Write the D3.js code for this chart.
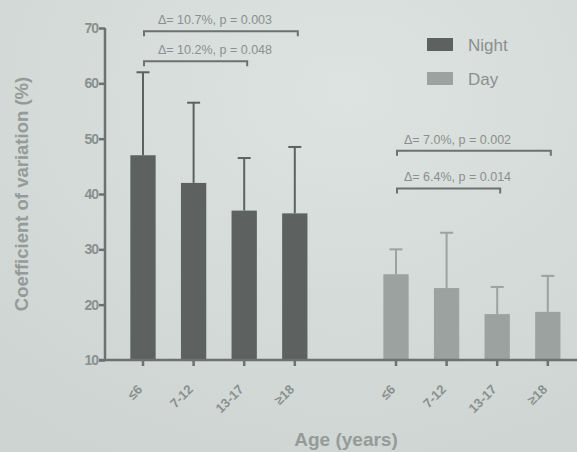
<!DOCTYPE html>
<html>
<head>
<meta charset="utf-8">
<script src="https://cdn.jsdelivr.net/npm/d3@7"></script>
<style>
  html, body { margin: 0; padding: 0; background: #d6dcd9; }
  svg { display: block; }
</style>
</head>
<body>
<svg id="chart" width="577" height="452"></svg>
<script>
// ---- data ----
const ageGroups = ["≤6", "7-12", "13-17", "≥18"];
const seriesNames = ["Night", "Day"];
const nightMeans = [47, 42, 37, 36.5];
const nightUpper = [62, 56.5, 46.5, 48.5];
const dayMeans = [25.5, 23, 18.3, 18.7];
const dayUpper = [30, 33, 23.2, 25.2];
const yTicks = [10, 20, 30, 40, 50, 60, 70];
const annotations = [
  { series: "Night", from: 0, to: 3, level: 69.4, text: "Δ= 10.7%, p = 0.003" },
  { series: "Night", from: 0, to: 2, level: 64,   text: "Δ= 10.2%, p = 0.048" },
  { series: "Day",   from: 0, to: 3, level: 47.8, text: "Δ= 7.0%, p = 0.002" },
  { series: "Day",   from: 0, to: 2, level: 41,   text: "Δ= 6.4%, p = 0.014" }
];

// ---- build ----
const svg = d3.select("#chart");
const W = 577, H = 452;
const colors = { Night: "#5d6261", Day: "#9ca2a0" };
const axisColor = "#6c7270";
const textColor = "#8a908e";
const titleColor = "#959b99";
const font = "'Liberation Sans', Arial, sans-serif";

// background with slight photographic gradient
const defs = svg.append("defs");
const grad = defs.append("radialGradient").attr("id", "bg")
  .attr("cx", "0.6").attr("cy", "0.2").attr("r", "0.9");
grad.append("stop").attr("offset", "0").attr("stop-color", "#dde3e0");
grad.append("stop").attr("offset", "1").attr("stop-color", "#cdd4d1");
svg.append("rect").attr("width", W).attr("height", H).attr("fill", "url(#bg)");

const rows = [];
const slots = [];
seriesNames.forEach((s, si) => {
  if (si > 0) slots.push("gap");
  ageGroups.forEach((a, i) => {
    const key = s + "|" + a;
    slots.push(key);
    rows.push({
      key, series: s, age: a, idx: i,
      mean: s === "Night" ? nightMeans[i] : dayMeans[i],
      upper: s === "Night" ? nightUpper[i] : dayUpper[i]
    });
  });
});

const x = d3.scaleBand().domain(slots).range([117.7, 573.1])
  .paddingInner(0.5).paddingOuter(0.25);
const y = d3.scaleLinear().domain([10, 70]).range([360, 28]);
const axisLeftX = 105;

// bars
svg.append("g").selectAll("rect").data(rows).join("rect")
  .attr("x", d => x(d.key))
  .attr("width", x.bandwidth())
  .attr("y", d => y(d.mean))
  .attr("height", d => y(10) - y(d.mean))
  .attr("fill", d => colors[d.series]);

// error bars
const eg = svg.append("g").attr("stroke-width", 2);
rows.forEach(d => {
  const cx = x(d.key) + x.bandwidth() / 2;
  eg.append("line").attr("x1", cx).attr("x2", cx)
    .attr("y1", y(d.mean)).attr("y2", y(d.upper))
    .attr("stroke", colors[d.series]);
  eg.append("line").attr("x1", cx - 6.5).attr("x2", cx + 6.5)
    .attr("y1", y(d.upper)).attr("y2", y(d.upper))
    .attr("stroke", colors[d.series]);
});

// y axis
const yAxis = d3.axisLeft(y).tickValues(yTicks).tickSize(6).tickPadding(1);
const gy = svg.append("g").attr("transform", `translate(${axisLeftX},0)`).call(yAxis);
gy.select(".domain").attr("stroke", axisColor).attr("stroke-width", 2.5)
  .attr("d", `M0,${y(70)}V${y(10)}`);
gy.selectAll(".tick line").attr("stroke", axisColor).attr("stroke-width", 2.5);
gy.selectAll(".tick text").attr("fill", textColor)
  .style("font-family", font).style("font-size", "14px").style("font-weight", "bold")
  .style("letter-spacing", "-1px");

// x axis
const xAxis = d3.axisBottom(x).tickValues(slots.filter(s => s !== "gap"))
  .tickFormat(k => k.split("|")[1]).tickSize(6).tickSizeOuter(0);
const gx = svg.append("g").attr("transform", `translate(0,${y(10)})`).call(xAxis);
gx.select(".domain").attr("stroke", axisColor).attr("stroke-width", 2.5)
  .attr("d", `M${axisLeftX - 6},0H${W}`);
gx.selectAll(".tick line").attr("stroke", axisColor).attr("stroke-width", 2.5);
gx.selectAll(".tick text")
  .attr("fill", textColor)
  .style("font-family", font).style("font-size", "13px").style("font-weight", "bold")
  .attr("text-anchor", "end")
  .attr("dy", "0.35em")
  .attr("transform", "translate(-3,27) rotate(-45)")
  .attr("x", 0).attr("y", 0);

// significance brackets
const ag = svg.append("g");
annotations.forEach(a => {
  const k1 = a.series + "|" + ageGroups[a.from];
  const k2 = a.series + "|" + ageGroups[a.to];
  const x1 = x(k1) + x.bandwidth() / 2 + 1;
  const x2 = x(k2) + x.bandwidth() / 2 + 3;
  const yy = y(a.level);
  ag.append("path")
    .attr("d", `M${x1},${yy + 5}V${yy}H${x2}V${yy + 5}`)
    .attr("fill", "none").attr("stroke", axisColor).attr("stroke-width", 2);
  ag.append("text")
    .attr("x", x1 + (a.series === "Night" ? 14 : 7))
    .attr("y", yy - 7)
    .attr("text-anchor", "start")
    .attr("fill", textColor)
    .style("font-family", font).style("font-size", "12.5px")
    .text(a.text);
});

// legend
const lg = svg.append("g").attr("transform", "translate(427,38)");
seriesNames.forEach((s, i) => {
  lg.append("rect").attr("x", 0).attr("y", i * 34).attr("width", 26).attr("height", 13)
    .attr("fill", colors[s]);
  lg.append("text").attr("x", 41).attr("y", i * 34 + 13)
    .attr("fill", textColor)
    .style("font-family", font).style("font-size", "17px")
    .text(s);
});

// axis titles
svg.append("text")
  .attr("transform", `translate(28,194) rotate(-90)`)
  .attr("text-anchor", "middle")
  .attr("fill", titleColor)
  .style("font-family", font).style("font-size", "18.5px").style("font-weight", "bold")
  .text("Coefficient of variation (%)");
svg.append("text")
  .attr("x", 346).attr("y", 446)
  .attr("text-anchor", "middle")
  .attr("fill", titleColor)
  .style("font-family", font).style("font-size", "19px").style("font-weight", "bold")
  .text("Age (years)");
</script>
</body>
</html>
